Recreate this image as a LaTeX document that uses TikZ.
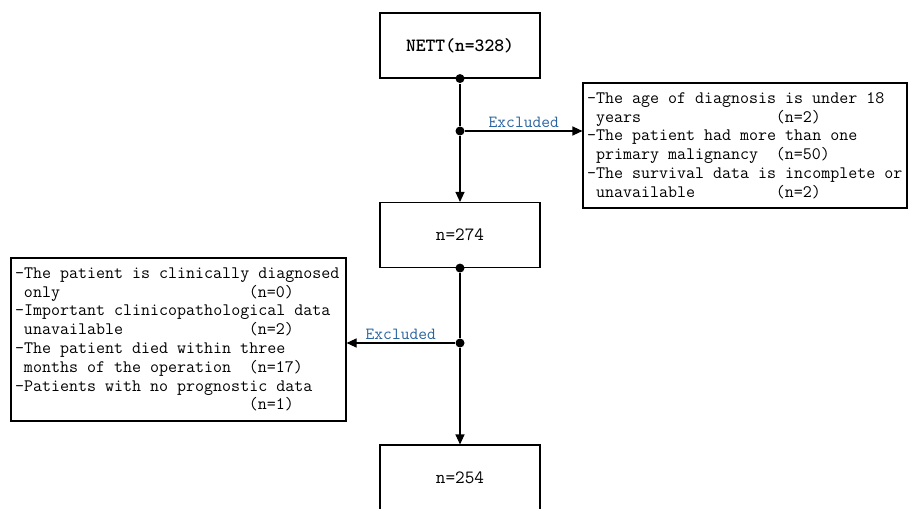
\documentclass[tikz,border=0pt]{standalone}
\usepackage{fontspec}
\usepackage{tikz}
\usetikzlibrary{arrows.meta}
\definecolor{exclblue}{RGB}{40,100,160}
% pad a line to a given number of columns
\newcommand{\padto}[2]{\makebox[\dimexpr#1em*514/1000\relax][l]{#2}}
% full-width spaces of the typewriter font
\newcommand{\monosp}{\spaceskip=0.514em\relax}

\begin{document}
\begin{tikzpicture}[x=1pt, y=-1pt, line width=1.1pt,
  mainbox/.style={draw, minimum width=160pt, minimum height=65pt, inner sep=0pt, font=\ttfamily\fontsize{18.7}{21}\selectfont},
  listbox/.style={draw, inner xsep=4pt, align=left, font=\ttfamily\fontsize{17.5}{18.8}\selectfont},
  dot/.style={circle, fill, inner sep=0pt, minimum size=9pt},
  arr/.style={-{Triangle[length=10pt,width=9pt]}},
  exlabel/.style={text=exclblue, font=\ttfamily\fontsize{17}{18}\selectfont, above, inner sep=3pt}]
\useasboundingbox (0,0) rectangle (909,508);
% main boxes
\node[mainbox] (nett) at (460,45.5) {\bfseries NETT(n=328)};
\node[mainbox] (n274) at (460,235) {n=274};
\node[mainbox] (n254) at (460,477.5) {n=254};
% exclusion boxes
\node[listbox, minimum width=324pt, minimum height=125pt, text width=316pt] (exA) at (745,145.5) {\monosp
-The age of diagnosis is under 18\\
\padto{21}{\ years}(n=2)\\
-The patient had more than one\\
\padto{21}{\ primary malignancy}(n=50)\\
-The survival data is incomplete or\\
\padto{21}{\ unavailable}(n=2)};
\node[listbox, minimum width=335pt, minimum height=163pt, text width=327pt] (exB) at (178.5,339.5) {\monosp
-The patient is clinically diagnosed\\
\padto{26}{\ only}(n=0)\\
-Important clinicopathological data\\
\padto{26}{\ unavailable}(n=2)\\
-The patient died within three\\
\padto{26}{\ months of the operation}(n=17)\\
-Patients with no prognostic data\\
\padto{26}{\ }(n=1)};
% junction dots
\node[dot] (d1) at (nett.south) {};
\node[dot] (d2) at (460,131) {};
\node[dot] (d3) at (n274.south) {};
\node[dot] (d4) at (460,343) {};
% connectors
\draw (d1) -- (d2);
\draw[arr] (d2) -- (n274.north);
\draw[arr] (d2) -- (d2 -| exA.west) node[exlabel, midway] {Excluded};
\draw (d3) -- (d4);
\draw[arr] (d4) -- (n254.north);
\draw[arr] (d4) -- (d4 -| exB.east) node[exlabel, midway] {Excluded};
\end{tikzpicture}
\end{document}
